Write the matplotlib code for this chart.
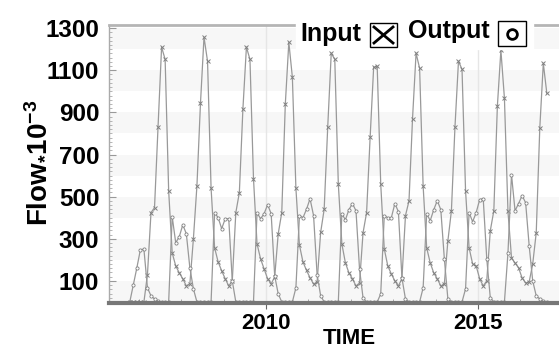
import numpy as np
import matplotlib.pyplot as plt
from matplotlib.patches import Rectangle
from matplotlib.lines import Line2D

plt.rcParams['font.family'] = ['Liberation Sans', 'DejaVu Sans']
plt.rcParams['mathtext.fontset'] = 'custom'
plt.rcParams['mathtext.rm'] = 'Liberation Sans:bold'
plt.rcParams['mathtext.bf'] = 'Liberation Sans:bold'
plt.rcParams['mathtext.it'] = 'Liberation Sans:bold'

# monthly series, first value ~ Oct 2006
start_year = 2006.79
input_flow = [0, 0, 0, 0, 0, 130, 424, 448, 833, 1210, 1152, 528, 233, 171, 138, 110,
              76, 86, 300, 552, 943, 1257, 1143, 540, 257, 190, 148, 110, 76, 100,
              424, 519, 914, 1210, 1152, 586, 276, 205, 157, 110, 86, 119, 324, 424,
              938, 1233, 1067, 540, 270, 190, 150, 115, 85, 95, 330, 440, 829, 1181,
              1152, 560, 276, 186, 138, 110, 76, 90, 329, 424, 781, 1114, 1119, 560,
              252, 171, 133, 100, 76, 110, 410, 480, 871, 1181, 1110, 550, 257, 186,
              138, 110, 76, 86, 290, 433, 829, 1143, 1105, 528, 257, 181, 171, 110,
              76, 100, 338, 433, 929, 1195, 967, 430, 210, 185, 162, 114, 90, 95,
              180, 329, 824, 1133, 990]
output_flow = [0, 81, 162, 248, 250, 67, 29, 14, 5, 0, 0, 0, 405, 281, 310, 366,
               324, 162, 62, 0, 0, 0, 0, 0, 424, 400, 348, 395, 395, 100,
               0, 0, 0, 0, 0, 0, 424, 395, 419, 462, 419, 124, 38, 0,
               0, 0, 0, 67, 410, 400, 440, 490, 410, 130, 30, 0, 0, 0,
               0, 0, 419, 390, 438, 467, 433, 157, 19, 0, 0, 0, 0, 38,
               410, 400, 400, 467, 429, 114, 14, 0, 0, 0, 0, 67, 419, 386,
               438, 481, 438, 205, 14, 0, 0, 0, 0, 62, 424, 381, 424, 486,
               490, 205, 20, 0, 0, 0, 0, 233, 605, 433, 467, 505, 471, 267,
               100, 29, 14, 5, 0]
y_ticks = [100, 300, 500, 700, 900, 1100, 1300]
x_ticks = [2010, 2015]

t = start_year + np.arange(len(input_flow)) / 12.0

W, H = 559, 349
fig = plt.figure(figsize=(W / 100, H / 100), dpi=100)
ax = fig.add_axes([109 / W, 1 - 303 / H, 450 / W, 278 / H])

for lo in range(0, 1400, 200):
    ax.axhspan(lo, lo + 100, color='#f7f7f7', lw=0, zorder=0)
for xt in x_ticks:
    ax.axvline(xt, color='#e6e6e6', lw=1, zorder=0.5)

ax.plot(t, input_flow, color='#999999', lw=0.9, marker='x', ms=2.3, mew=0.7,
        mec='#808080', zorder=2)
ax.plot(t, output_flow, color='#999999', lw=0.9, marker='o', ms=2.3, mew=0.6,
        mec='#808080', mfc='white', zorder=2)

ax.set_xlim(2006.3, 2016.91)
ax.set_ylim(-5, 1315)
ax.set_yticks(y_ticks)
ax.set_yticks(np.arange(0, 1320, 20), minor=True)
ax.set_xticks(x_ticks)
ax.set_xticks(np.arange(2007, 2017), minor=True)
ax.tick_params(axis='y', which='major', direction='in', length=5, color='#999999',
               labelsize=17.5, pad=7)
ax.tick_params(axis='y', which='minor', direction='in', length=2.5, color='#aaaaaa')
ax.tick_params(axis='x', which='major', direction='out', length=4, color='#666666',
               labelsize=16, pad=3)
ax.tick_params(axis='x', which='minor', direction='in', length=3, color='#999999')
for lab in ax.get_yticklabels() + ax.get_xticklabels():
    lab.set_fontweight('bold')

ax.spines['right'].set_visible(False)
ax.spines['left'].set_color('#aaaaaa')
ax.spines['left'].set_linewidth(1)
ax.spines['top'].set_color('#b5b5b5')
ax.spines['top'].set_linewidth(2)
ax.spines['bottom'].set_color('#777777')
ax.spines['bottom'].set_linewidth(3)

fig.text(37 / W, 1 - 163 / H, r'Flow$_{*}$10$^{-3}$', rotation=90, fontsize=20,
         fontweight='bold', ha='center', va='center')
fig.text(349 / W, 1 - 339 / H, 'TIME', fontsize=16, fontweight='bold',
         ha='center', va='center')

# legend drawn by hand: text followed by a framed symbol
def fx(px):
    return px / W

def fy(py):
    return 1 - py / H

fig.add_artist(Rectangle((fx(296), fy(49)), fx(533) - fx(296), fy(15) - fy(49),
                         transform=fig.transFigure, color='white', zorder=3))
fig.text(fx(331), fy(34), 'Input', fontsize=18, fontweight='bold', ha='center',
         va='center', zorder=4)
fig.text(fx(449), fy(31), 'Output', fontsize=18, fontweight='bold', ha='center',
         va='center', zorder=4)
for x0, y0, x1, y1 in [(370, 23, 397, 47), (498, 21, 526, 46)]:
    fig.add_artist(Rectangle((fx(x0), fy(y1)), fx(x1) - fx(x0), fy(y0) - fy(y1),
                             transform=fig.transFigure, fill=False, ec='black',
                             lw=1, zorder=4))
fig.add_artist(Line2D([fx(374), fx(393)], [fy(27), fy(43)], transform=fig.transFigure,
                      color='black', lw=2, zorder=5))
fig.add_artist(Line2D([fx(374), fx(393)], [fy(43), fy(27)], transform=fig.transFigure,
                      color='black', lw=2, zorder=5))
fig.add_artist(Line2D([fx(512)], [fy(34)], transform=fig.transFigure, marker='o',
                      ms=7, mew=2, mec='black', mfc='none', zorder=5))

fig.savefig('out.png', dpi=100)
